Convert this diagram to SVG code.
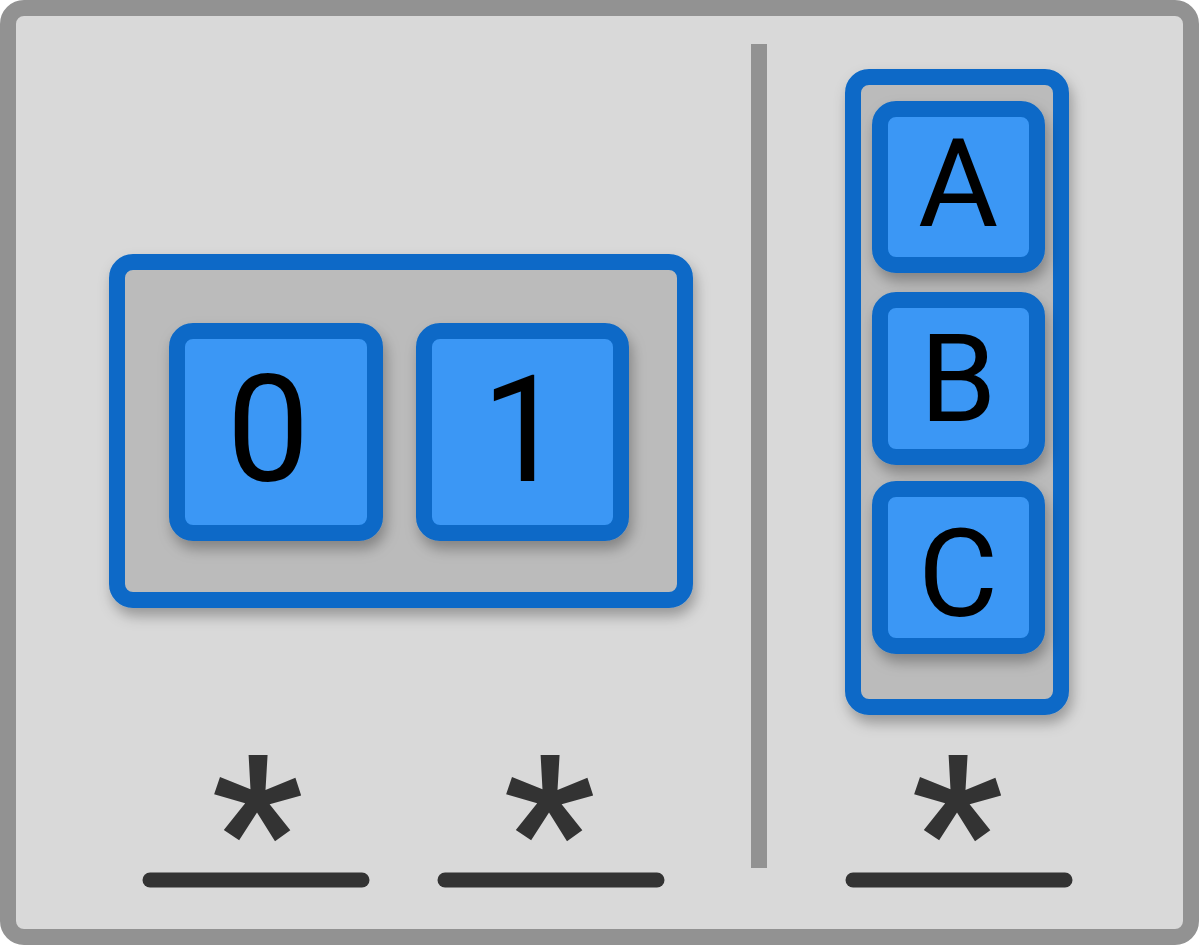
<svg xmlns="http://www.w3.org/2000/svg" width="1199" height="945" viewBox="0 0 1199 945">
<defs>
<filter id="sh" x="-20%" y="-20%" width="150%" height="150%">
<feDropShadow dx="3" dy="8" stdDeviation="7" flood-color="#000" flood-opacity="0.3"/>
</filter>
<style>
.frame{fill:#d9d9d9;stroke:#929292;stroke-width:16}
.panel{fill:#bbbbbb;stroke:#0b69c7;stroke-width:16;filter:url(#sh)}
.key{fill:#3b97f5;stroke:#0b69c7;stroke-width:16;filter:url(#sh)}
.lbl{font-family:Roboto,"Liberation Sans",sans-serif;fill:#000;text-anchor:middle}
.dig{font-size:148px}
.let{font-size:123px}
.ast{font-family:Roboto,"Liberation Sans",sans-serif;font-weight:bold;font-size:200px;fill:#333;text-anchor:middle}
.ul{stroke:#333;stroke-width:15;stroke-linecap:round}
</style>
</defs>
<rect class="frame" x="8" y="8" width="1183" height="929" rx="16"/>
<line x1="759" y1="44" x2="759" y2="868" stroke="#929292" stroke-width="16"/>
<g id="group01">
<rect class="panel" x="117" y="262" width="568" height="338" rx="16"/>
<g id="key0"><rect class="key" x="177" y="331" width="198" height="202" rx="16"/><text class="lbl dig" x="268" y="481">0</text></g>
<g id="key1"><rect class="key" x="424" y="331" width="197" height="202" rx="16"/><text class="lbl dig" x="523" y="481">1</text></g>
</g>
<g id="groupABC">
<rect class="panel" x="853" y="77" width="208" height="630" rx="16"/>
<g id="keyA"><rect class="key" x="880" y="109" width="157" height="156" rx="16"/><text class="lbl let" x="958" y="226">A</text></g>
<g id="keyB"><rect class="key" x="880" y="300" width="157" height="157" rx="16"/><text class="lbl let" x="958" y="421">B</text></g>
<g id="keyC"><rect class="key" x="880" y="489" width="157" height="157" rx="16"/><text class="lbl let" x="958" y="616">C</text></g>
</g>
<g id="repeat1"><text class="ast" x="257" y="898">*</text><line class="ul" x1="150" y1="880" x2="362" y2="880"/></g>
<g id="repeat2"><text class="ast" x="549" y="898">*</text><line class="ul" x1="445" y1="880" x2="657" y2="880"/></g>
<g id="repeat3"><text class="ast" x="957" y="898">*</text><line class="ul" x1="853" y1="880" x2="1065" y2="880"/></g>
</svg>
